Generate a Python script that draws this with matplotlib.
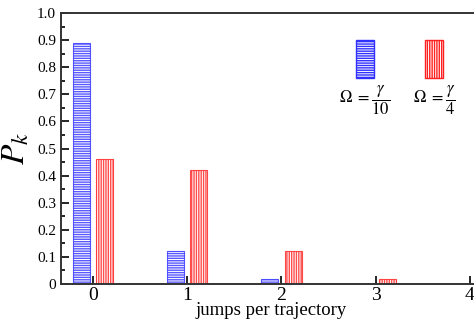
import numpy as np
import matplotlib
matplotlib.use("Agg")
import matplotlib.pyplot as plt
from matplotlib.patches import Rectangle

plt.rcParams['font.family'] = ['Liberation Serif', 'DejaVu Serif']
plt.rcParams['mathtext.fontset'] = 'stix'
plt.rcParams['hatch.linewidth'] = 1.0

# jump-count distributions for the two drive strengths
jumps = [0, 1, 2, 3]
p_slow = [0.89, 0.12, 0.02, 0.0]    # Omega = gamma/10
p_fast = [0.46, 0.42, 0.12, 0.02]   # Omega = gamma/4
yticks = [0, 0.1, 0.2, 0.3, 0.4, 0.5, 0.6, 0.7, 0.8, 0.9, 1.0]
ytick_labels = ["0", "0.1", "0.2", "0.3", "0.4", "0.5", "0.6", "0.7", "0.8", "0.9", "1.0"]

fig = plt.figure(figsize=(4.74, 3.2), dpi=100)
ax = fig.add_axes([61 / 474, 36 / 320, 420 / 474, 271 / 320])

x = np.array(jumps, dtype=float)
w = 0.18
blue = '#3030ff'
red = '#ff2020'
for xi, v in zip(x, p_slow):
    if v > 0:
        ax.bar(xi - 0.125, v, w, facecolor='white', edgecolor=blue,
               hatch='-------', linewidth=0.8, alpha=0.8)
for xi, v in zip(x, p_fast):
    if v > 0:
        ax.bar(xi + 0.125, v, w, facecolor='white', edgecolor=red,
               hatch='|||||||', linewidth=0.8, alpha=0.8)

ax.set_xlim(-0.34, 4.12)
ax.set_ylim(0, 1.0)
ax.set_xticks([0, 1, 2, 3, 4])
ax.set_xticklabels(["0", "1", "2", "3", "4"], fontsize=14)
ax.set_yticks(yticks)
ax.set_yticklabels(ytick_labels, fontsize=11)
ax.set_yticks(np.arange(0.05, 1.0, 0.1), minor=True)
ax.tick_params(axis='both', direction='in', length=6, width=1.2)
ax.tick_params(axis='y', which='minor', direction='in', length=3, width=1.2)
ax.tick_params(axis='x', pad=2)
for s in ax.spines.values():
    s.set_linewidth(1.4)
    s.set_color('#333333')

ax.set_xlabel("jumps per trajectory", fontsize=13.5, labelpad=-1)
ax.set_ylabel("$P_k$", fontsize=24, labelpad=4)

# legend swatches drawn in figure coordinates
for (x0, col, h) in [(356, blue, '-------'), (425, red, '|||||||')]:
    r = Rectangle((x0 / 474, 1 - 78 / 320), 18 / 474, 38 / 320,
                  transform=fig.transFigure, facecolor='white',
                  edgecolor=col, hatch=h, linewidth=1.0)
    fig.patches.append(r)
fig.text(365 / 474, 1 - 100 / 320, r"$\Omega\ =\dfrac{\gamma}{10}$",
         ha='center', va='center', fontsize=12)
fig.text(434 / 474, 1 - 100 / 320, r"$\Omega\ =\dfrac{\gamma}{4}$",
         ha='center', va='center', fontsize=12)

fig.savefig("out.png", dpi=100)
